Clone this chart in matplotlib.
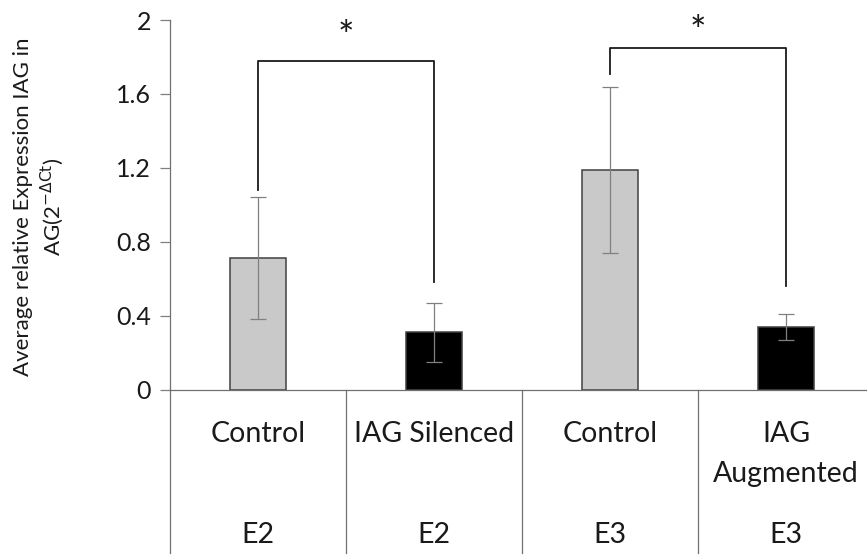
import numpy as np
import matplotlib
matplotlib.use('Agg')
import matplotlib.pyplot as plt
import matplotlib.transforms as mtransforms

plt.rcParams['font.family'] = ['Lato', 'DejaVu Sans']

# Data
groups = ['Control', 'IAG Silenced', 'Control', 'IAG\nAugmented']
stages = ['E2', 'E2', 'E3', 'E3']
means = [0.71, 0.31, 1.19, 0.34]
errors = [0.33, 0.16, 0.45, 0.07]
bar_colors = ['#c9c9c9', '#000000', '#c9c9c9', '#000000']

# significance brackets: (left bar, right bar, left end, top, right end, star y)
brackets = [(0, 1, 1.08, 1.78, 0.58, 1.90),
            (2, 3, 1.71, 1.85, 0.56, 1.93)]

fig = plt.figure(figsize=(8.67, 5.59), dpi=100)
ax = fig.add_axes([0.196, 0.3032, 0.804, 0.661])

x = np.arange(len(means))
ax.bar(x, means, width=0.315, color=bar_colors, edgecolor='#404040',
       linewidth=1.1, zorder=2)
ax.errorbar(x, means, yerr=errors, fmt='none', ecolor='#808080',
            elinewidth=0.9, capsize=5.5, capthick=0.9, zorder=3)

# brackets and stars
for i, j, yl, ytop, yr, ys in brackets:
    ax.plot([x[i], x[i], x[j], x[j]], [yl, ytop, ytop, yr],
            color='#1a1a1a', linewidth=1.3, zorder=4)
    ax.text((x[i] + x[j]) / 2, ys, '*', ha='center', va='center',
            fontsize=28, color='#1a1a1a')

ax.set_xlim(-0.5, 3.46)
ax.set_ylim(0, 2)
ax.set_yticks(np.arange(0, 2.01, 0.4))
ax.set_yticklabels(['0', '0.4', '0.8', '1.2', '1.6', '2'])
ax.tick_params(axis='y', direction='out', length=7.5, width=0.9,
               color='#808080', labelsize=18, pad=6, labelcolor='#1a1a1a')
ax.set_xticks([])

for side in ['top', 'right']:
    ax.spines[side].set_visible(False)
for side in ['left', 'bottom']:
    ax.spines[side].set_color('#707070')
    ax.spines[side].set_linewidth(0.9)

# multi-level category axis below the bars
trans = mtransforms.blended_transform_factory(ax.transData, ax.transAxes)
for sep in [-0.5, 0.5, 1.5, 2.5]:
    ax.plot([sep, sep], [0, -0.443], transform=trans, color='#707070',
            linewidth=0.9, clip_on=False)

for xi, g, s in zip(x, groups, stages):
    lines = g.split('\n')
    for k, line in enumerate(lines):
        ax.text(xi, -0.141 - 0.109 * k, line, transform=trans, ha='center',
                va='baseline', fontsize=20.5, color='#1a1a1a')
    ax.text(xi, -0.416, s, transform=trans, ha='center', va='baseline',
            fontsize=20.5, color='#1a1a1a')

# y label in two lines
fig.text(0.027, 0.631, 'Average relative Expression IAG in', rotation=90,
         ha='center', va='center', fontsize=16, color='#1a1a1a')
fig.text(0.060, 0.631, r'AG(2$^{-\Delta \mathrm{Ct}}$)', rotation=90,
         ha='center', va='center', fontsize=16, color='#1a1a1a')

fig.savefig('out.png', dpi=100)
